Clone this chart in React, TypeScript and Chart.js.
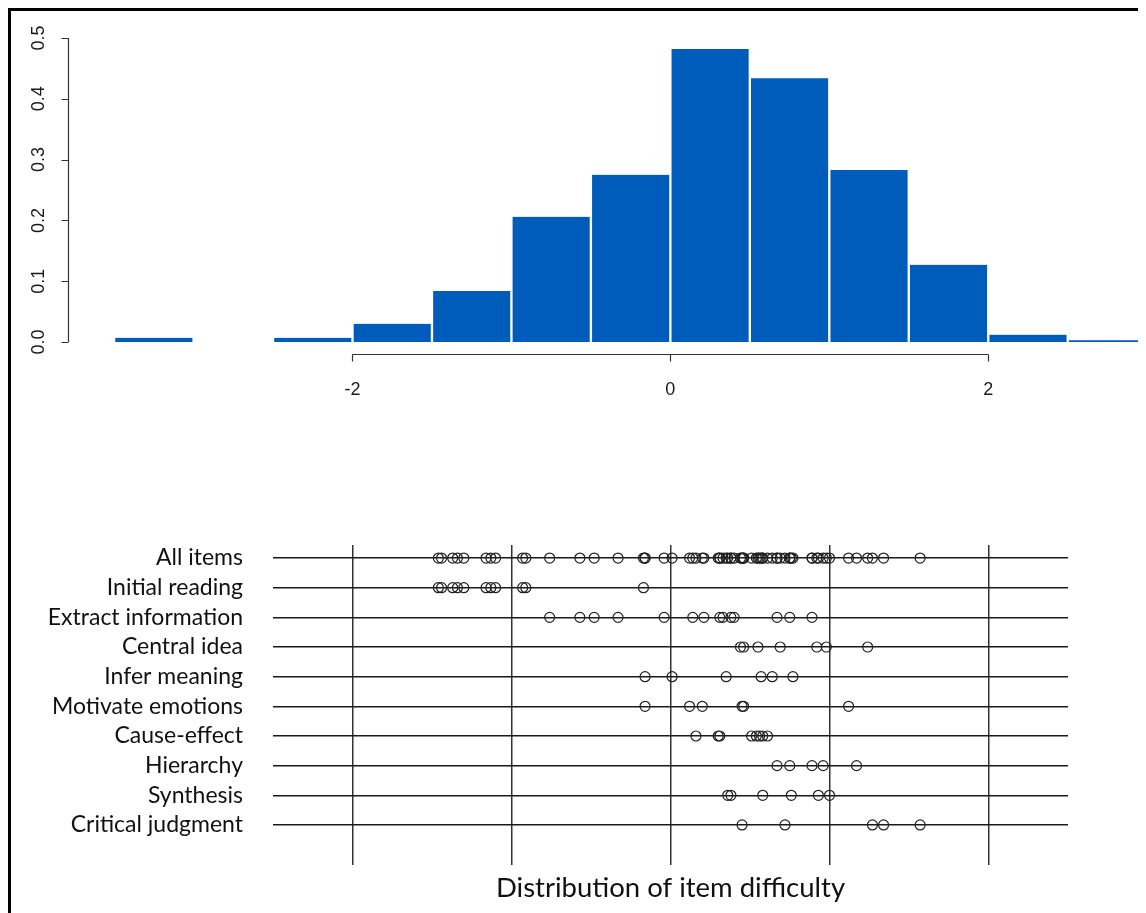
import React, { useEffect, useRef } from 'react';
import { Chart, registerables } from 'chart.js';

Chart.register(...registerables);

// ---------- Histogram (top) ----------
const binCenters = [-3.25, -2.75, -2.25, -1.75, -1.25, -0.75, -0.25, 0.25, 0.75, 1.25, 1.75, 2.25, 2.75];
const binDensity = [0.007, 0, 0.007, 0.03, 0.084, 0.206, 0.275, 0.482, 0.434, 0.283, 0.127, 0.012, 0.003];
const histYTicks = [0, 0.1, 0.2, 0.3, 0.4, 0.5];
const histYTickLabels = ['0.0', '0.1', '0.2', '0.3', '0.4', '0.5'];
const histXTicks = [-2, 0, 2];
const histXTickLabels = ['-2', '0', '2'];

// ---------- Dot plot (bottom) ----------
const categories = [
  'All items',
  'Initial reading',
  'Extract information',
  'Central idea',
  'Infer meaning',
  'Motivate emotions',
  'Cause-effect',
  'Hierarchy',
  'Synthesis',
  'Critical judgment',
];
const initialReading = [-1.46, -1.44, -1.37, -1.34, -1.3, -1.16, -1.13, -1.1, -0.93, -0.91, -0.17];
const extractInformation = [-0.76, -0.57, -0.48, -0.33, -0.04, 0.14, 0.21, 0.31, 0.33, 0.38, 0.4, 0.67, 0.75, 0.89];
const centralIdea = [0.44, 0.46, 0.55, 0.69, 0.92, 0.98, 1.24];
const inferMeaning = [-0.16, 0.01, 0.35, 0.57, 0.64, 0.77];
const motivateEmotions = [-0.16, 0.12, 0.2, 0.45, 0.46, 1.12];
const causeEffect = [0.16, 0.3, 0.31, 0.51, 0.54, 0.56, 0.58, 0.61];
const hierarchy = [0.67, 0.75, 0.89, 0.96, 1.17];
const synthesis = [0.36, 0.38, 0.58, 0.76, 0.93, 1.0];
const criticalJudgment = [0.45, 0.72, 1.27, 1.34, 1.57];
const allItems = [
  ...initialReading,
  ...extractInformation,
  ...centralIdea,
  ...inferMeaning,
  ...motivateEmotions,
  ...causeEffect,
  ...hierarchy,
  ...synthesis,
  ...criticalJudgment,
];
const rowValues = [
  allItems,
  initialReading,
  extractInformation,
  centralIdea,
  inferMeaning,
  motivateEmotions,
  causeEffect,
  hierarchy,
  synthesis,
  criticalJudgment,
];
const difficultyGrid = [-2, -1, 0, 1, 2];
const xTitle = 'Distribution of item difficulty';

const histAxesPlugin = {
  id: 'histAxes',
  afterDraw(chart: any) {
    const { ctx, scales, chartArea } = chart;
    const x = scales.x;
    const y = scales.y;
    ctx.save();
    ctx.strokeStyle = '#333';
    ctx.lineWidth = 1.2;
    ctx.fillStyle = '#1a1a1a';
    ctx.font = '18px "Liberation Sans", Arial, sans-serif';
    // y axis
    const ax = Math.round(chartArea.left) + 0.5;
    const y0 = y.getPixelForValue(histYTicks[0]);
    const y1 = y.getPixelForValue(histYTicks[histYTicks.length - 1]);
    ctx.beginPath();
    ctx.moveTo(ax, y0);
    ctx.lineTo(ax, y1);
    histYTicks.forEach((v) => {
      const py = Math.round(y.getPixelForValue(v)) + 0.5;
      ctx.moveTo(ax, py);
      ctx.lineTo(ax - 7, py);
    });
    ctx.stroke();
    ctx.textAlign = 'center';
    ctx.textBaseline = 'middle';
    histYTicks.forEach((v, i) => {
      const py = y.getPixelForValue(v);
      ctx.save();
      ctx.translate(ax - 29, py);
      ctx.rotate(-Math.PI / 2);
      ctx.fillText(histYTickLabels[i], 0, 0);
      ctx.restore();
    });
    // x axis
    const ay = Math.round(y0 + 12) + 0.5;
    const xa = x.getPixelForValue(histXTicks[0]);
    const xb = x.getPixelForValue(histXTicks[histXTicks.length - 1]);
    ctx.beginPath();
    ctx.moveTo(xa, ay);
    ctx.lineTo(xb, ay);
    histXTicks.forEach((v) => {
      const px = Math.round(x.getPixelForValue(v)) + 0.5;
      ctx.moveTo(px, ay);
      ctx.lineTo(px, ay + 7);
    });
    ctx.stroke();
    histXTicks.forEach((v, i) => {
      ctx.fillText(histXTickLabels[i], x.getPixelForValue(v), y0 + 48);
    });
    ctx.restore();
  },
};

export default function App() {
  const topRef = useRef<HTMLCanvasElement>(null);
  const botRef = useRef<HTMLCanvasElement>(null);

  useEffect(() => {
    const top = new Chart(topRef.current as HTMLCanvasElement, {
      type: 'bar',
      data: {
        datasets: [
          {
            data: binCenters.map((c, i) => ({ x: c, y: binDensity[i] })),
            backgroundColor: '#005cbb',
            borderColor: '#ffffff',
            borderWidth: { left: 1.5, right: 1.5, top: 0, bottom: 0 },
            borderSkipped: false,
            barPercentage: 1,
            categoryPercentage: 1,
          } as any,
        ],
      },
      options: {
        animation: false,
        responsive: false,
        layout: { padding: { left: 60, right: 2, top: 30, bottom: 86 } },
        scales: {
          x: { type: 'linear', min: -3.79, max: 2.98, offset: false, display: false },
          y: { type: 'linear', min: 0, max: 0.5, display: false },
        },
        plugins: { legend: { display: false }, tooltip: { enabled: false } },
      },
      plugins: [histAxesPlugin],
    });

    const bottom = new Chart(botRef.current as HTMLCanvasElement, {
      type: 'scatter',
      data: {
        datasets: categories.map((c, i) => ({
          label: c,
          data: rowValues[i].map((v) => ({ x: v, y: i })),
          pointStyle: 'circle',
          pointRadius: 5,
          pointBorderWidth: 1.2,
          pointBorderColor: '#222',
          pointBackgroundColor: 'rgba(0,0,0,0)',
          showLine: false,
        })),
      },
      options: {
        animation: false,
        responsive: false,
        layout: { padding: { left: 0, right: 78, top: 45, bottom: 0 } },
        plugins: { legend: { display: false }, tooltip: { enabled: false } },
        scales: {
          x: {
            type: 'linear',
            min: -2.5,
            max: 2.5,
            afterBuildTicks: (s: any) => {
              s.ticks = difficultyGrid.map((v) => ({ value: v }));
            },
            afterFit: (s: any) => {
              s.height = 48;
            },
            grid: { color: '#333', lineWidth: 1.5, drawTicks: false },
            border: { display: false },
            ticks: { display: false },
            title: {
              display: true,
              text: xTitle,
              color: '#111',
              font: { family: 'Lato', size: 27.5 },
              padding: { top: 0, bottom: 8 },
            },
          },
          y: {
            type: 'linear',
            reverse: true,
            min: -0.44,
            max: 10.35,
            afterBuildTicks: (s: any) => {
              s.ticks = categories.map((_, i) => ({ value: i }));
            },
            afterFit: (s: any) => {
              s.width = 265;
            },
            grid: { color: '#1a1a1a', lineWidth: 1.5, drawTicks: false },
            border: { display: false },
            ticks: {
              callback: (_v: any, i: number) => categories[i],
              color: '#111',
              font: { family: 'Lato', size: 23 },
              padding: 30,
            },
          },
        },
      },
    });

    return () => {
      top.destroy();
      bottom.destroy();
    };
  }, []);

  return (
    <div style={{ position: 'relative', width: 1138, height: 905, overflow: 'hidden', background: '#fff' }}>
      <div
        style={{
          position: 'absolute',
          left: 0,
          top: 0,
          width: 1138,
          height: 905,
          boxSizing: 'border-box',
          borderTop: '3px solid #000',
          borderLeft: '3px solid #000',
          pointerEvents: 'none',
          zIndex: 2,
        }}
      />
      <canvas
        ref={topRef}
        width={1138}
        height={420}
        style={{ position: 'absolute', left: 0, top: 0, width: 1138, height: 420 }}
      />
      <canvas
        ref={botRef}
        width={1138}
        height={413}
        style={{ position: 'absolute', left: 0, top: 492, width: 1138, height: 413 }}
      />
    </div>
  );
}
